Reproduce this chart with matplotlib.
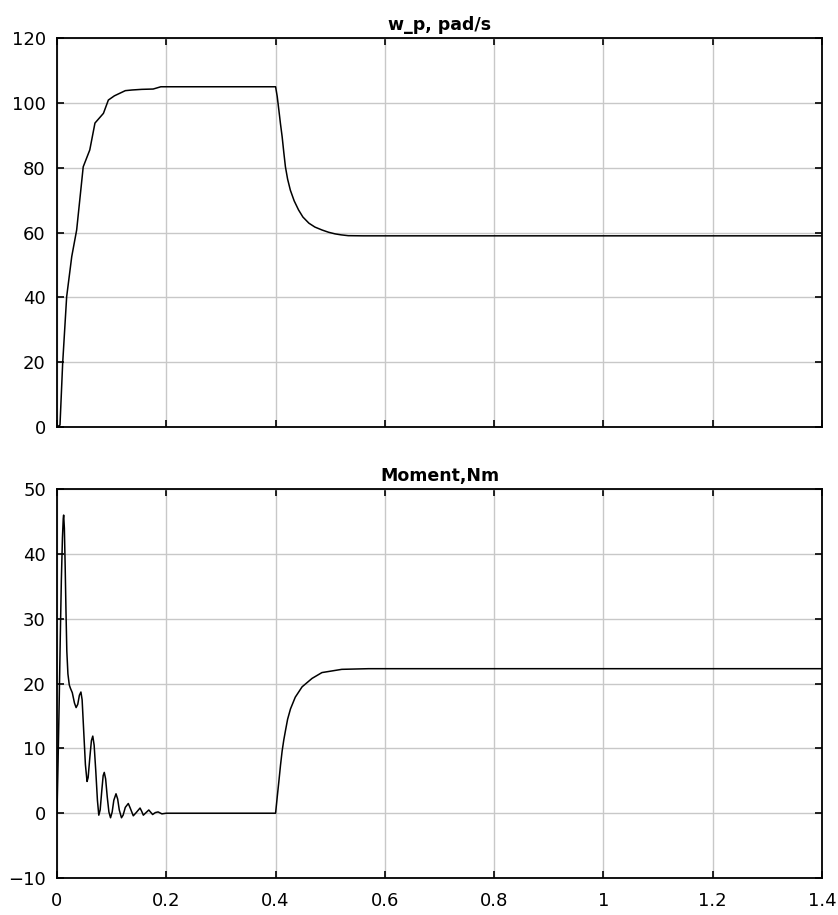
import numpy as np
import matplotlib
matplotlib.use('Agg')
import matplotlib.pyplot as plt

# speed w_p, rad/s
w_t = [0, 0.0055, 0.0104, 0.0177, 0.027, 0.036, 0.048, 0.060, 0.0695, 0.085,
       0.094, 0.105, 0.115, 0.125, 0.137, 0.155, 0.176, 0.19, 0.4, 0.403,
       0.406, 0.409, 0.412, 0.415, 0.418, 0.422, 0.427, 0.434, 0.442, 0.45,
       0.461, 0.472, 0.485, 0.497, 0.509, 0.52, 0.533, 0.56, 1.4]
w_v = [0, 0.6, 19.7, 40.2, 52.6, 60.8, 80.3, 85.5, 93.8, 96.8,
       100.9, 102.2, 103, 103.8, 104, 104.2, 104.3, 105, 105, 102,
       97.8, 93.5, 89.6, 84.8, 80.3, 76.5, 73.1, 69.8, 67, 64.8,
       62.9, 61.7, 60.8, 60.1, 59.6, 59.3, 59.05, 59, 59]

# moment, Nm
m_t = [0, 0.002, 0.004, 0.006, 0.008, 0.010, 0.0115, 0.0122, 0.0135, 0.015,
       0.0165, 0.018, 0.020, 0.0225, 0.0245, 0.028, 0.032, 0.035, 0.038, 0.041,
       0.0438, 0.046, 0.049, 0.052, 0.055, 0.057, 0.060, 0.063, 0.0655, 0.068,
       0.071, 0.074, 0.0765, 0.079, 0.082, 0.0845, 0.0865, 0.089, 0.092, 0.095,
       0.098, 0.101, 0.104, 0.108, 0.111, 0.114, 0.118, 0.121, 0.125, 0.1305,
       0.134, 0.1396, 0.145, 0.152, 0.155, 0.158, 0.163, 0.168, 0.175, 0.18,
       0.185, 0.192, 0.2, 0.4, 0.403, 0.406, 0.409, 0.412, 0.415, 0.418,
       0.422, 0.4273, 0.436, 0.4485, 0.4667, 0.4848, 0.5212, 0.57, 1.4]
m_v = [0, 8, 17, 27, 36, 42.5, 45.5, 46, 44, 38,
       31, 25, 21.5, 19.8, 19.3, 18.6, 17.0, 16.3, 16.8, 18.2,
       18.7, 17.5, 12.5, 7.5, 4.9, 5.5, 8.5, 11.2, 11.9, 10.5,
       6.5, 2.0, -0.3, 0.5, 3.5, 5.8, 6.3, 5.3, 2.5, 0.2,
       -0.7, 0.2, 2.0, 3.0, 2.2, 0.5, -0.7, -0.3, 0.9, 1.5,
       0.8, -0.4, 0.1, 0.8, 0.3, -0.3, 0.1, 0.5, -0.2, 0.1,
       0.2, -0.1, 0, 0, 2.5, 4.9, 7.4, 9.6, 11.3, 12.7,
       14.5, 16.1, 17.9, 19.5, 20.8, 21.7, 22.2, 22.3, 22.3]

x_ticks = [0, 0.2, 0.4, 0.6, 0.8, 1.0, 1.2, 1.4]
x_labels = ['0', '0.2', '0.4', '0.6', '0.8', '1', '1.2', '1.4']
titles = ['w_p, pad/s', 'Moment,Nm']

plt.rcParams['font.family'] = ['DejaVu Sans']
plt.rcParams['font.size'] = 13

fig = plt.figure(figsize=(8.38, 9.15), dpi=100)
ax1 = fig.add_axes([0.068, 0.5333, 0.913, 0.425])
ax2 = fig.add_axes([0.068, 0.0404, 0.913, 0.425])

for ax, t, v, title in [(ax1, w_t, w_v, titles[0]), (ax2, m_t, m_v, titles[1])]:
    ax.plot(t, v, color='black', lw=1.1)
    ax.set_xlim(0, 1.4)
    ax.set_xticks(x_ticks)
    ax.grid(True, color='#c8c8c8', lw=1.0)
    ax.set_axisbelow(True)
    ax.tick_params(direction='in', top=True, right=True, length=5, width=1.2)
    ax.tick_params(axis='x', pad=10)
    ax.tick_params(axis='y', pad=8)
    for s in ax.spines.values():
        s.set_linewidth(1.3)
    ax.set_title(title, fontweight='bold', fontsize=12.5, pad=6)

ax1.set_ylim(0, 120)
ax1.set_yticks(np.arange(0, 121, 20))
ax1.set_xticklabels([])

ax2.set_ylim(-10, 50)
ax2.set_yticks(np.arange(-10, 51, 10))
ax2.set_xticklabels(x_labels)

fig.savefig('out.png', dpi=100)
